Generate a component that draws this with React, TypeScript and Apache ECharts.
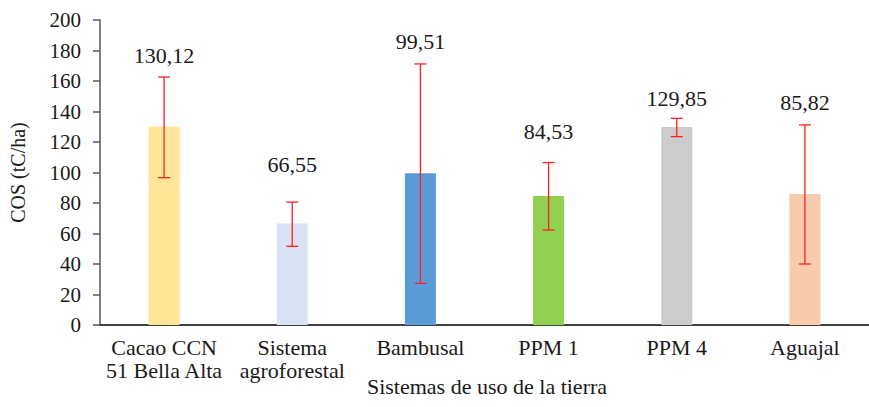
import React, { useEffect, useRef } from "react";
import * as echarts from "echarts";

const categories = [
  "Cacao CCN\n51 Bella Alta",
  "Sistema\nagroforestal",
  "Bambusal",
  "PPM 1",
  "PPM 4",
  "Aguajal",
];
const means = [130.12, 66.55, 99.51, 84.53, 129.85, 85.82];
const meanLabels = ["130,12", "66,55", "99,51", "84,53", "129,85", "85,82"];
const errLow = [96.6, 51.6, 27.3, 62.3, 123.5, 40.0];
const errHigh = [162.6, 80.6, 171.2, 106.5, 135.5, 131.2];
const yTicks = [0, 20, 40, 60, 80, 100, 120, 140, 160, 180, 200];

const barColors = ["#FFE699", "#DAE3F3", "#5B9BD5", "#92D050", "#CCCCCC", "#F8CBAD"];
const labelGaps = [22, 38, 22, 31, 20, 22];
const FONT = "Liberation Serif";

export default function App() {
  const ref = useRef<HTMLDivElement>(null);
  useEffect(() => {
    if (!ref.current) return;
    const chart = echarts.init(ref.current, undefined, { renderer: "svg" });
    const errData = categories.map((_, i) => [i, errLow[i], errHigh[i], i]);
    chart.setOption({
      animation: false,
      backgroundColor: "#ffffff",
      textStyle: { fontFamily: FONT },
      grid: { left: 97, top: 20, width: 782, height: 305, containLabel: false },
      xAxis: {
        type: "category",
        data: categories,
        axisLine: { show: true, lineStyle: { color: "#404040", width: 2 } },
        axisTick: { show: false },
        axisLabel: {
          interval: 0,
          margin: 11,
          color: "#1a1a1a",
          fontFamily: FONT,
          fontSize: 22,
          lineHeight: 23,
        },
      },
      yAxis: {
        type: "value",
        min: yTicks[0],
        max: yTicks[yTicks.length - 1],
        interval: 20,
        name: "COS (tC/ha)",
        nameLocation: "middle",
        nameGap: 72,
        nameTextStyle: { color: "#1a1a1a", fontFamily: FONT, fontSize: 20 },
        axisLine: { show: true, lineStyle: { color: "#595959", width: 1.5 } },
        axisTick: { show: true, length: 7, lineStyle: { color: "#595959", width: 1.5 } },
        axisLabel: { margin: 19, color: "#1a1a1a", fontFamily: FONT, fontSize: 21 },
        splitLine: { show: false },
      },
      graphic: [
        {
          type: "text",
          x: 487,
          y: 386,
          style: {
            text: "Sistemas de uso de la tierra",
            fill: "#1a1a1a",
            fontFamily: FONT,
            fontSize: 22,
            align: "center",
            verticalAlign: "middle",
          },
        },
      ],
      series: [
        {
          type: "bar",
          barWidth: 31,
          data: means.map((v, i) => ({ value: v, itemStyle: { color: barColors[i] } })),
          z: 2,
        },
        {
          type: "custom",
          z: 3,
          data: errData,
          encode: { x: 0, y: [1, 2] },
          renderItem: (params: any, api: any) => {
            const idx = api.value(0);
            const lo = api.value(1);
            const hi = api.value(2);
            const i = api.value(3);
            const top = api.coord([idx, hi]);
            const bot = api.coord([idx, lo]);
            const hw = 6;
            const ls = { stroke: "#FF2020", lineWidth: 1.3 };
            return {
              type: "group",
              children: [
                { type: "line", shape: { x1: top[0], y1: top[1], x2: bot[0], y2: bot[1] }, style: ls },
                { type: "line", shape: { x1: top[0] - hw, y1: top[1], x2: top[0] + hw, y2: top[1] }, style: ls },
                { type: "line", shape: { x1: bot[0] - hw, y1: bot[1], x2: bot[0] + hw, y2: bot[1] }, style: ls },
                {
                  type: "text",
                  x: top[0],
                  y: top[1] - labelGaps[i],
                  style: {
                    text: meanLabels[i],
                    fill: "#1a1a1a",
                    fontFamily: FONT,
                    fontSize: 22,
                    align: "center",
                    verticalAlign: "middle",
                  },
                },
              ],
            };
          },
        },
      ],
    });
    return () => chart.dispose();
  }, []);
  return (
    <div
      ref={ref}
      style={{ position: "fixed", left: 0, top: 0, width: 869, height: 407, background: "#fff" }}
    />
  );
}
